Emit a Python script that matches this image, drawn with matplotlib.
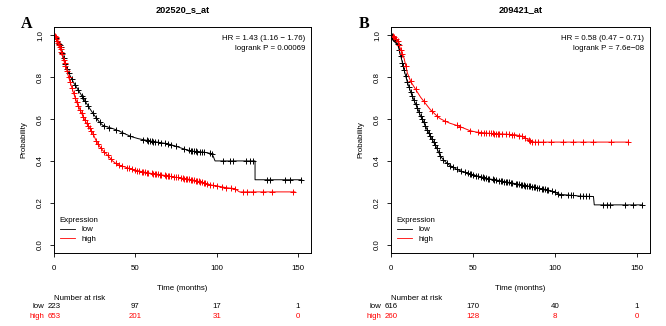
import numpy as np
import matplotlib
matplotlib.use("Agg")
import matplotlib.pyplot as plt
from matplotlib.transforms import blended_transform_factory
from matplotlib.lines import Line2D

plt.rcParams['font.family'] = ['Liberation Sans', 'DejaVu Sans']

RED = "#FF0000"

# ---- panel A : 202520_s_at ----  (curve vertices)
a_low_t = [0, 2, 4, 6, 8, 10, 12, 14, 16, 18, 20, 22, 24, 26, 28, 30, 33, 36, 40, 44, 48,
           52, 56, 60, 65, 70, 75, 78, 82, 86, 92, 97, 98, 99, 123.6, 123.6, 152.3]
a_low_s = [1.0, 0.975, 0.945, 0.89, 0.84, 0.805, 0.775, 0.75, 0.725, 0.70, 0.675, 0.65, 0.627,
           0.605, 0.585, 0.57, 0.562, 0.555, 0.543, 0.528, 0.515, 0.506, 0.5, 0.494, 0.488,
           0.482, 0.47, 0.462, 0.452, 0.446, 0.442, 0.435, 0.42, 0.40, 0.40, 0.31, 0.31]
a_low_cens = [1, 2, 3, 3.5, 4, 5, 6, 7, 8, 9, 11, 13, 15, 17, 18, 19, 21, 24, 26, 28, 31, 34,
              38, 42, 47, 55, 57, 58, 59, 60, 61, 62, 64, 66, 68, 70, 72, 75, 80, 83, 84, 85,
              86, 87, 88, 90, 91, 92, 96, 97, 104, 108, 110, 118, 120.5, 122.5,
              130.8, 132.8, 142, 145, 152]

a_high_t = [0, 1, 2, 3, 4, 5, 6, 7, 8, 9, 10, 12, 14, 16, 18, 20, 22, 24, 26, 28, 30, 32, 34,
            36, 38, 40, 44, 48, 52, 56, 60, 65, 70, 75, 80, 85, 90, 94, 98, 102, 106, 111,
            114, 148.2]
a_high_s = [1.0, 0.99, 0.975, 0.955, 0.935, 0.91, 0.88, 0.855, 0.83, 0.80, 0.775, 0.725, 0.68,
            0.645, 0.61, 0.58, 0.555, 0.53, 0.495, 0.47, 0.45, 0.435, 0.418, 0.40, 0.388,
            0.38, 0.37, 0.36, 0.352, 0.346, 0.34, 0.335, 0.328, 0.322, 0.316, 0.31, 0.30,
            0.29, 0.283, 0.278, 0.272, 0.268, 0.252, 0.252]
a_high_cens = [0.5, 1, 1.5, 2, 2.5, 3, 3.5, 4, 4.5, 5, 6, 6.5, 7, 8, 9, 10, 11, 12, 13, 14, 15,
               16, 17, 18, 19, 20, 21, 22, 23, 24, 26, 27, 29, 31, 33, 35, 38, 40, 42, 45, 46,
               48, 50, 51, 52, 54, 55, 56, 57, 58, 60, 61, 62, 63, 64, 65, 66, 68, 69, 70, 71,
               72, 74, 75, 76, 78, 79, 80, 81, 82, 83, 84, 85, 86, 87, 88, 89, 90, 91, 92, 93,
               94, 96, 98, 100, 103, 106, 109, 111, 116.4, 118.5, 122.6, 128.7, 133.9, 147.2]

# ---- panel B : 209421_at ----
b_low_t = [0, 2, 4, 6, 8, 10, 12, 14, 16, 18, 20, 22, 24, 26, 28, 30, 32, 34, 36, 38, 40, 44,
           48, 52, 56, 60, 65, 70, 75, 80, 85, 90, 95, 100, 103, 110, 115, 123.5, 124, 153.2]
b_low_s = [1.0, 0.985, 0.96, 0.90, 0.835, 0.775, 0.73, 0.69, 0.655, 0.615, 0.585, 0.55, 0.52,
           0.49, 0.46, 0.425, 0.405, 0.39, 0.378, 0.37, 0.36, 0.348, 0.338, 0.33, 0.322,
           0.314, 0.308, 0.30, 0.293, 0.285, 0.278, 0.27, 0.263, 0.25, 0.24, 0.236, 0.232,
           0.23, 0.19, 0.19]
b_low_cens = [0.5, 1, 1.5, 2, 2.5, 3, 4, 5, 6, 7, 7.5, 8, 9, 10, 11, 12, 13, 14, 15, 16, 17,
              18, 19, 20, 21, 22, 23, 24, 25, 26, 27, 28, 29, 30, 32, 34, 36, 38, 40, 43, 45,
              47, 48, 49, 50, 52, 53, 55, 56, 57, 58, 59, 60, 62, 63, 64, 66, 67, 68, 69, 70,
              71, 72, 73, 74, 76, 77, 78, 79, 80, 81, 82, 83, 84, 85, 86, 87, 88, 89, 90, 92,
              93, 94, 95, 96, 98, 100, 102, 104, 108, 110, 111, 115, 117, 119, 121,
              129.2, 131.5, 133.5, 142.5, 147.7, 153]

b_high_t = [0, 2, 4, 6, 8, 10, 12, 14, 16, 18, 20, 22, 24, 26, 28, 30, 33, 36, 40, 44, 48, 52,
            56, 60, 70, 76, 80, 83, 86, 145]
b_high_s = [1.0, 0.99, 0.975, 0.93, 0.89, 0.82, 0.78, 0.755, 0.73, 0.705, 0.685, 0.665, 0.645,
            0.63, 0.615, 0.602, 0.59, 0.58, 0.57, 0.558, 0.545, 0.538, 0.535, 0.532, 0.528,
            0.525, 0.518, 0.505, 0.49, 0.49]
b_high_cens = [1, 2, 3, 4, 5, 6, 7, 9, 12, 15, 20, 25, 28, 33, 40, 42, 48, 53, 55, 57, 58, 60,
               61, 62, 63, 64, 65, 66, 68, 70, 72, 74, 75, 78, 80, 82, 84, 85, 86, 87.7, 89.7,
               92.8, 97.9, 105, 111, 117.2, 123.3, 134.5, 144.7]

risk_times = [0, 50, 100, 150]
a_risk_low = [223, 97, 17, 1]
a_risk_high = [653, 201, 31, 0]
b_risk_low = [616, 170, 40, 1]
b_risk_high = [260, 128, 8, 0]

panels = [
    ("A", "202520_s_at", "HR = 1.43 (1.16 \u2212 1.76)", "logrank P = 0.00069",
     (a_low_t, a_low_s, a_low_cens), (a_high_t, a_high_s, a_high_cens), a_risk_low, a_risk_high),
    ("B", "209421_at", "HR = 0.58 (0.47 \u2212 0.71)", "logrank P = 7.6e\u221208",
     (b_low_t, b_low_s, b_low_cens), (b_high_t, b_high_s, b_high_cens), b_risk_low, b_risk_high),
]

W, H = 666, 326
fig = plt.figure(figsize=(W / 100, H / 100), dpi=100)

boxes = [(54, 311), (391, 650)]
top_px, bot_px = 27, 253
fs = 5.7

for (letter, title, hr, pval, low, high, rlow, rhigh), (x0, x1) in zip(panels, boxes):
    ax = fig.add_axes([x0 / W, 1 - bot_px / H, (x1 - x0) / W, (bot_px - top_px) / H])
    for (t, s, c), col in ((low, "black"), (high, RED)):
        ax.plot(t, s, color=col, lw=0.7)
        # censor marks sit on the curve
        ys = np.interp(c, t, s, left=1.0)
        ax.plot(c, ys, ls="none", marker="+", ms=4.0, mew=0.7, color=col)

    ax.set_xlim(0, 158)
    ax.set_ylim(-0.04, 1.04)
    ax.set_xticks([0, 50, 100, 150])
    ax.set_yticks([0.0, 0.2, 0.4, 0.6, 0.8, 1.0])
    ax.set_yticklabels(["0.0", "0.2", "0.4", "0.6", "0.8", "1.0"], rotation=90, va="center")
    ax.tick_params(direction="out", length=3.2, width=0.6, labelsize=fs)
    ax.tick_params(axis="x", pad=5.5)
    ax.tick_params(axis="y", pad=4)
    for sp in ax.spines.values():
        sp.set_linewidth(0.7)
    ax.set_ylabel("Probability", fontsize=fs, labelpad=7)

    ax.set_title(title, fontsize=6.6, fontweight="bold", pad=11)
    ax.text(0.977, 0.948, hr, transform=ax.transAxes, ha="right", va="center", fontsize=fs)
    ax.text(0.977, 0.904, pval, transform=ax.transAxes, ha="right", va="center", fontsize=fs)

    handles = [Line2D([], [], color="black", lw=0.6), Line2D([], [], color=RED, lw=0.6)]
    ax.legend(handles, ["low", "high"], title="Expression", loc="lower left",
              bbox_to_anchor=(0.0, 0.02), frameon=False, fontsize=fs,
              title_fontsize=fs, handlelength=2.0, handletextpad=0.8,
              labelspacing=0.25, alignment="left", borderaxespad=0.3)

    fig.text((x0 - 27) / W, 1 - 24 / H, letter, family="Liberation Serif",
             fontweight="bold", fontsize=11.5, ha="center", va="center")

    # number-at-risk table under the axis
    tr = blended_transform_factory(ax.transData, fig.transFigure)
    ax.text(0.5, 1 - 288 / H, "Time (months)", transform=blended_transform_factory(
        ax.transAxes, fig.transFigure), ha="center", va="center", fontsize=fs)
    ax.text(0, 1 - 298 / H, "Number at risk", transform=tr, ha="left", va="center", fontsize=fs)
    ax.text(-6, 1 - 307 / H, "low", transform=tr, ha="right", va="center", fontsize=fs)
    ax.text(-6, 1 - 317 / H, "high", transform=tr, ha="right", va="center", fontsize=fs,
            color=RED)
    for xt, nl, nh in zip(risk_times, rlow, rhigh):
        ax.text(xt, 1 - 307 / H, str(nl), transform=tr, ha="center", va="center", fontsize=fs)
        ax.text(xt, 1 - 317 / H, str(nh), transform=tr, ha="center", va="center", fontsize=fs,
                color=RED)

fig.savefig("out.png", dpi=100)
